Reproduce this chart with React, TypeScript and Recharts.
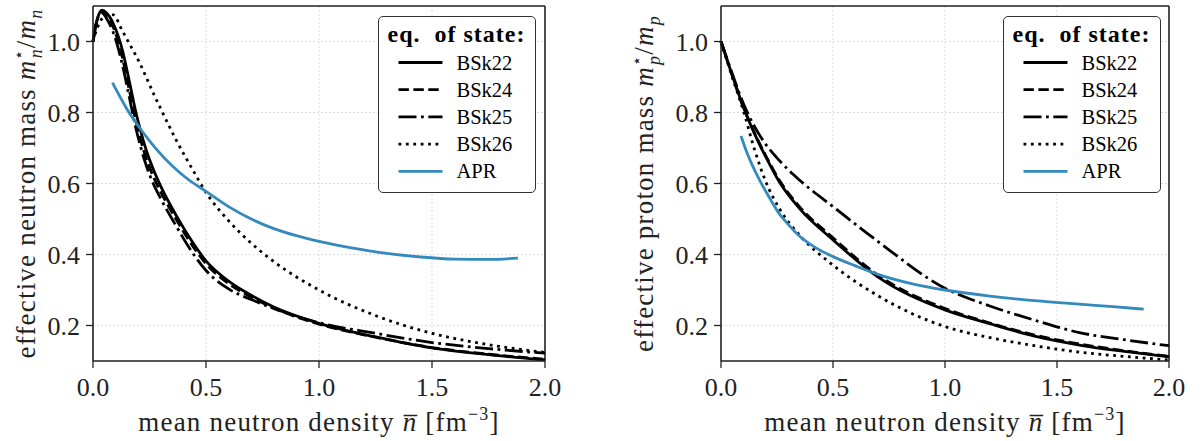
import React from 'react';
import { LineChart, Line, XAxis, YAxis, CartesianGrid, ReferenceLine, Legend } from 'recharts';

// axis ticks shared by both panels
const xTicks = [0, 0.5, 1.0, 1.5, 2.0];
const yTicks = [0.2, 0.4, 0.6, 0.8, 1.0];

// left panel: neutron effective mass, BSk models on a common density grid
const neutronGrid = [0, 0.02, 0.04, 0.06, 0.09, 0.13, 0.16, 0.19, 0.21, 0.235, 0.27, 0.3, 0.37, 0.44, 0.5, 0.6, 0.7, 0.8, 1.0, 1.25, 1.5, 1.75, 2.0];
const neutronBSk22 = [1.0, 1.065, 1.088, 1.08, 1.05, 0.976, 0.89, 0.8, 0.75, 0.695, 0.635, 0.592, 0.508, 0.435, 0.382, 0.325, 0.285, 0.252, 0.206, 0.168, 0.137, 0.118, 0.103];
const neutronBSk24 = [1.0, 1.065, 1.085, 1.075, 1.04, 0.955, 0.865, 0.775, 0.725, 0.672, 0.615, 0.576, 0.497, 0.425, 0.374, 0.318, 0.28, 0.249, 0.204, 0.167, 0.138, 0.119, 0.105];
const neutronBSk25 = [1.0, 1.065, 1.08, 1.065, 1.025, 0.935, 0.845, 0.755, 0.705, 0.652, 0.595, 0.557, 0.478, 0.405, 0.355, 0.303, 0.273, 0.248, 0.208, 0.178, 0.152, 0.135, 0.122];
const neutronBSk26 = [1.0, 1.04, 1.065, 1.078, 1.075, 1.03, 0.995, 0.96, 0.935, 0.9, 0.85, 0.81, 0.72, 0.64, 0.575, 0.495, 0.432, 0.38, 0.3, 0.228, 0.178, 0.146, 0.124];
const neutronAprX = [0.086, 0.15, 0.22, 0.28, 0.35, 0.42, 0.5, 0.6, 0.7, 0.8, 0.9, 1.0, 1.15, 1.3, 1.45, 1.6, 1.75, 1.88];
const neutronAprY = [0.884, 0.81, 0.745, 0.697, 0.65, 0.612, 0.578, 0.535, 0.5, 0.473, 0.453, 0.437, 0.418, 0.403, 0.393, 0.387, 0.386, 0.39];

// right panel: proton effective mass
const protonGrid = [0, 0.05, 0.1, 0.15, 0.2, 0.26, 0.35, 0.5, 0.7, 1.0, 1.2, 1.4, 1.6, 1.8, 2.0];
const protonBSk22 = [1.0, 0.905, 0.815, 0.74, 0.675, 0.605, 0.53, 0.441, 0.337, 0.244, 0.205, 0.17, 0.145, 0.127, 0.112];
const protonBSk24 = [1.0, 0.905, 0.815, 0.742, 0.678, 0.61, 0.535, 0.447, 0.342, 0.248, 0.207, 0.173, 0.148, 0.129, 0.113];
const protonBSk25 = [1.0, 0.91, 0.825, 0.76, 0.71, 0.665, 0.61, 0.535, 0.437, 0.305, 0.255, 0.215, 0.18, 0.16, 0.143];
const protonBSk26 = [1.0, 0.9, 0.805, 0.695, 0.605, 0.53, 0.455, 0.37, 0.284, 0.197, 0.166, 0.143, 0.125, 0.113, 0.103];
const protonAprX = [0.089, 0.12, 0.17, 0.22, 0.26, 0.3, 0.35, 0.42, 0.5, 0.6, 0.7, 0.85, 1.0, 1.2, 1.4, 1.6, 1.75, 1.887];
const protonAprY = [0.734, 0.68, 0.612, 0.556, 0.515, 0.485, 0.452, 0.42, 0.394, 0.368, 0.344, 0.318, 0.3, 0.283, 0.27, 0.26, 0.253, 0.246];

const FONT = '"Liberation Serif", "Times New Roman", serif';
const INK = '#222';
const BLUE = '#348abd';
const LW = 2.8;

const seriesStyles = [
  { name: 'BSk22', color: '#000', dash: undefined },
  { name: 'BSk24', color: '#000', dash: '10.4 4.5' },
  { name: 'BSk25', color: '#000', dash: '18 4.5 2.8 4.5' },
  { name: 'BSk26', color: '#000', dash: '2.8 4.6' },
  { name: 'APR', color: BLUE, dash: undefined },
];

const zip = (xs: number[], ys: number[]) => xs.map((x, i) => ({ x, y: ys[i] }));

const neutronSeries = [
  zip(neutronGrid, neutronBSk22),
  zip(neutronGrid, neutronBSk24),
  zip(neutronGrid, neutronBSk25),
  zip(neutronGrid, neutronBSk26),
  zip(neutronAprX, neutronAprY),
];
const protonSeries = [
  zip(protonGrid, protonBSk22),
  zip(protonGrid, protonBSk24),
  zip(protonGrid, protonBSk25),
  zip(protonGrid, protonBSk26),
  zip(protonAprX, protonAprY),
];

const LegendBox = () => (
  <div
    style={{
      width: 158,
      height: 177,
      boxSizing: 'border-box',
      border: '1.5px solid #333',
      borderRadius: 5,
      background: 'rgba(255,255,255,0.9)',
    }}
  >
    <svg width={155} height={174} style={{ display: 'block' }}>
      <text x={77.5} y={25} textAnchor="middle" fontFamily={FONT} fontWeight="bold" fontSize={24} letterSpacing={1} fill="#000">
        {'eq.\u00a0 of state:'}
      </text>
      {seriesStyles.map((s, i) => {
        const cy = 45.5 + i * 27.2;
        return (
          <g key={s.name}>
            <line x1={19.5} x2={63.5} y1={cy} y2={cy} stroke={s.color} strokeWidth={LW} strokeDasharray={s.dash} />
            <text x={77.5} y={cy + 7} fontFamily={FONT} fontSize={20.5} fill="#000">
              {s.name}
            </text>
          </g>
        );
      })}
    </svg>
  </div>
);

interface PanelProps {
  width: number;
  yAxisWidth: number;
  marginRight: number;
  series: { x: number; y: number }[][];
  word: string;
  sub: string;
  legendLeft: number;
  yLabelX: number;
}

const Panel: React.FC<PanelProps> = ({ width, yAxisWidth, marginRight, series, word, sub, legendLeft, yLabelX }) => {
  const renderXLabel = (props: any) => {
    const vb = props.viewBox;
    const cx = vb.x + vb.width / 2;
    return (
      <text x={cx} y={431} textAnchor="middle" fontFamily={FONT} fontSize={27} letterSpacing={1.2} fill={INK}>
        {'mean neutron density '}
        <tspan fontStyle="italic">{'n\u0305'}</tspan>
        {' [fm'}
        <tspan fontSize={18} dy={-11}>{'\u22123'}</tspan>
        <tspan dy={11}>]</tspan>
      </text>
    );
  };

  const renderYLabel = (props: any) => {
    const vb = props.viewBox;
    const cy = vb.y + vb.height / 2;
    return (
      <text
        x={yLabelX}
        y={cy}
        transform={`rotate(-90 ${yLabelX} ${cy})`}
        textAnchor="middle"
        fontFamily={FONT}
        fontSize={27}
        letterSpacing={1.2}
        fill={INK}
      >
        {`effective ${word} mass `}
        <tspan fontStyle="italic">m</tspan>
        <tspan fontSize={16} dy={-11}>{'\u22c6'}</tspan>
        <tspan fontSize={18} fontStyle="italic" dx={-10} dy={18}>{sub}</tspan>
        <tspan dy={-7}>/</tspan>
        <tspan fontStyle="italic">m</tspan>
        <tspan fontSize={18} fontStyle="italic" dy={7}>{sub}</tspan>
      </text>
    );
  };

  return (
    <LineChart width={width} height={441} margin={{ top: 6, right: marginRight, bottom: 40, left: 0 }}>
      <CartesianGrid stroke="#d4d4d4" strokeDasharray="2 2" strokeWidth={0.8} />
      <XAxis
        dataKey="x"
        type="number"
        domain={[0, 2]}
        ticks={xTicks}
        allowDuplicatedCategory={false}
        tickFormatter={(v: number) => v.toFixed(1)}
        tick={{ fontSize: 26, fill: INK, fontFamily: FONT }}
        tickSize={7}
        tickMargin={10}
        height={40}
        axisLine={{ stroke: INK, strokeWidth: 1.6 }}
        tickLine={{ stroke: INK, strokeWidth: 1.3 }}
        label={{ content: renderXLabel }}
      />
      <YAxis
        dataKey="y"
        type="number"
        domain={[0.1, 1.1]}
        ticks={yTicks}
        tickFormatter={(v: number) => v.toFixed(1)}
        tick={{ fontSize: 26, fill: INK, fontFamily: FONT }}
        tickSize={7}
        tickMargin={6}
        width={yAxisWidth}
        axisLine={{ stroke: INK, strokeWidth: 1.6 }}
        tickLine={{ stroke: INK, strokeWidth: 1.3 }}
        label={{ content: renderYLabel }}
      />
      <ReferenceLine y={1.1} stroke={INK} strokeWidth={1.6} />
      <ReferenceLine x={2} stroke={INK} strokeWidth={1.6} />
      {series.map((pts, i) => (
        <Line
          key={seriesStyles[i].name}
          data={pts}
          dataKey="y"
          name={seriesStyles[i].name}
          type="monotone"
          stroke={seriesStyles[i].color}
          strokeWidth={LW}
          strokeDasharray={seriesStyles[i].dash}
          dot={false}
          activeDot={false}
          isAnimationActive={false}
        />
      ))}
      <Legend
        layout="vertical"
        align="center"
        verticalAlign="middle"
        content={() => <LegendBox />}
        wrapperStyle={{ left: legendLeft, top: 16, width: 158, height: 177, right: 'auto', bottom: 'auto' }}
      />
    </LineChart>
  );
};

export default function App() {
  return (
    <div style={{ position: 'absolute', left: 0, top: 0, width: 1202, height: 441, background: '#fff' }}>
      <div style={{ position: 'absolute', left: 0, top: 0 }}>
        <Panel
          width={600}
          yAxisWidth={93}
          marginRight={55}
          series={neutronSeries}
          word="neutron"
          sub="n"
          legendLeft={378}
          yLabelX={35}
        />
      </div>
      <div style={{ position: 'absolute', left: 600, top: 0 }}>
        <Panel
          width={602}
          yAxisWidth={121}
          marginRight={33}
          series={protonSeries}
          word="proton"
          sub="p"
          legendLeft={403}
          yLabelX={53}
        />
      </div>
    </div>
  );
}
